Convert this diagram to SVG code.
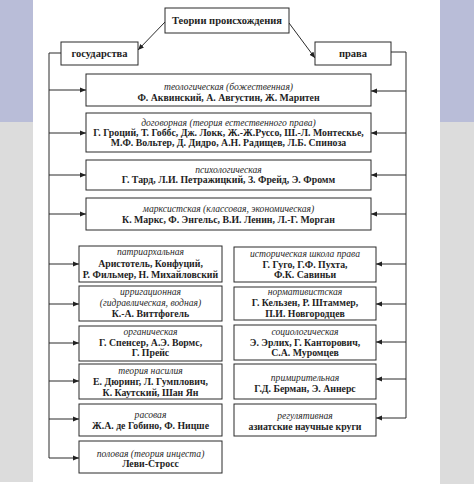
<svg xmlns="http://www.w3.org/2000/svg" width="474" height="487" viewBox="0 0 474 487">
<defs>
<marker id="ah" markerWidth="6" markerHeight="6" refX="6" refY="3" orient="auto" markerUnits="userSpaceOnUse">
<path d="M0,0.5 L6,3 L0,5.5 z" fill="#222"/>
</marker>
<style>
.bg-l{fill:#b9bdd8}
.bg-g{fill:#dcdcdc}
.box{fill:#fff;stroke:#2a2a2a;stroke-width:1}
.ln{fill:none;stroke:#2a2a2a;stroke-width:1}
.ar{fill:none;stroke:#2a2a2a;stroke-width:1;marker-end:url(#ah)}
text{font-family:"Liberation Serif","Times New Roman",serif;fill:#1e1e1e;text-anchor:middle}
.h{font-weight:bold;font-size:10.5px}
.it{font-style:italic;font-size:9.6px;fill:#2a2a2a}
.nm{font-weight:bold;font-size:9.8px}
</style>
</defs>
<rect x="0" y="0" width="474" height="487" fill="#fff"/>
<rect class="bg-l" x="0" y="0" width="33" height="122"/>
<rect class="bg-g" x="0" y="122" width="33" height="360"/>
<rect class="bg-l" x="440" y="0" width="34" height="122"/>
<rect class="bg-g" x="440" y="122" width="34" height="362"/>

<g id="connectors">
<line class="ar" x1="165" y1="22" x2="138" y2="50"/>
<line class="ar" x1="289" y1="23" x2="315" y2="58"/>
<polyline class="ln" points="61,53 49,53 49,458"/>
<polyline class="ln" points="391,52 406,52 406,418"/>
<line class="ar" x1="49" y1="90" x2="86" y2="90"/>
<line class="ar" x1="49" y1="133" x2="86" y2="133"/>
<line class="ar" x1="49" y1="175" x2="86" y2="175"/>
<line class="ar" x1="49" y1="214" x2="86" y2="214"/>
<line class="ar" x1="49" y1="264" x2="79" y2="264"/>
<line class="ar" x1="49" y1="304" x2="79" y2="304"/>
<line class="ar" x1="49" y1="343" x2="79" y2="343"/>
<line class="ar" x1="49" y1="381" x2="79" y2="381"/>
<line class="ar" x1="49" y1="419" x2="79" y2="419"/>
<line class="ar" x1="49" y1="458" x2="79" y2="458"/>
<line class="ar" x1="406" y1="91" x2="371" y2="91"/>
<line class="ar" x1="406" y1="133" x2="371" y2="133"/>
<line class="ar" x1="406" y1="175" x2="371" y2="175"/>
<line class="ar" x1="406" y1="214" x2="371" y2="214"/>
<line class="ar" x1="406" y1="264" x2="376" y2="264"/>
<line class="ar" x1="406" y1="304" x2="376" y2="304"/>
<line class="ar" x1="406" y1="342" x2="376" y2="342"/>
<line class="ar" x1="406" y1="379" x2="376" y2="379"/>
<line class="ar" x1="406" y1="418" x2="376" y2="418"/>
</g>

<g id="root"><rect class="box" x="165" y="8" width="124" height="25"/><text class="h" x="227" y="24">Теории происхождения</text></g>
<g id="state"><rect class="box" x="61" y="42" width="77" height="23"/><text class="h" x="99.5" y="57">государства</text></g>
<g id="law"><rect class="box" x="315" y="42" width="76" height="23"/><text class="h" x="353" y="57">права</text></g>

<g id="theological"><rect class="box" x="86" y="74" width="285" height="32"/>
<text class="it" x="228.5" y="90">теологическая (божественная)</text>
<text class="nm" x="228.5" y="100.5">Ф. Аквинский, А. Августин, Ж. Маритен</text></g>
<g id="contractual"><rect class="box" x="86" y="113" width="285" height="39"/>
<text class="it" x="228.5" y="126">договорная (теория естественного права)</text>
<text class="nm" x="228.5" y="136">Г. Гроций, Т. Гоббс, Дж. Локк, Ж.-Ж.Руссо, Ш.-Л. Монтескье,</text>
<text class="nm" x="228.5" y="146">М.Ф. Вольтер, Д. Дидро, А.Н. Радищев, Л.Б. Спиноза</text></g>
<g id="psychological"><rect class="box" x="86" y="160" width="285" height="30"/>
<text class="it" x="228.5" y="173">психологическая</text>
<text class="nm" x="228.5" y="183">Г. Тард, Л.И. Петражицкий, З. Фрейд, Э. Фромм</text></g>
<g id="marxist"><rect class="box" x="86" y="198" width="285" height="32"/>
<text class="it" x="228.5" y="212">марксистская (классовая, экономическая)</text>
<text class="nm" x="228.5" y="223">К. Маркс, Ф. Энгельс, В.И. Ленин, Л.-Г. Морган</text></g>

<g id="patriarchal"><rect class="box" x="79" y="246" width="143" height="36"/>
<text class="it" x="150.5" y="255">патриархальная</text>
<text class="nm" x="150.5" y="267">Аристотель, Конфуций,</text>
<text class="nm" x="150.5" y="278">Р. Фильмер, Н. Михайловский</text></g>
<g id="irrigation"><rect class="box" x="79" y="286" width="143" height="35"/>
<text class="it" x="150.5" y="295">ирригационная</text>
<text class="it" x="150.5" y="306">(гидравлическая, водная)</text>
<text class="nm" x="150.5" y="317">К.-А. Виттфогель</text></g>
<g id="organic"><rect class="box" x="79" y="326" width="143" height="35"/>
<text class="it" x="150.5" y="335">органическая</text>
<text class="nm" x="150.5" y="345.5">Г. Спенсер, А.Э. Вормс,</text>
<text class="nm" x="150.5" y="356">Г. Прейс</text></g>
<g id="violence"><rect class="box" x="79" y="364" width="143" height="35"/>
<text class="it" x="150.5" y="374">теория насилия</text>
<text class="nm" x="150.5" y="385">Е. Дюринг, Л. Гумплович,</text>
<text class="nm" x="150.5" y="395.5">К. Каутский, Шан Ян</text></g>
<g id="racial"><rect class="box" x="79" y="404" width="143" height="32"/>
<text class="it" x="150.5" y="418">расовая</text>
<text class="nm" x="150.5" y="428.5">Ж.А. де Гобино, Ф. Ницше</text></g>
<g id="sexual"><rect class="box" x="79" y="441" width="143" height="32"/>
<text class="it" x="150.5" y="457">половая (теория инцеста)</text>
<text class="nm" x="150.5" y="467">Леви-Стросс</text></g>

<g id="historical"><rect class="box" x="234" y="247" width="142" height="35"/>
<text class="it" x="305" y="257">историческая школа права</text>
<text class="nm" x="305" y="267.5">Г. Гуго, Г.Ф. Пухта,</text>
<text class="nm" x="305" y="278">Ф.К. Савиньи</text></g>
<g id="normativist"><rect class="box" x="234" y="287" width="142" height="33"/>
<text class="it" x="305" y="295">нормативистская</text>
<text class="nm" x="305" y="306">Г. Кельзен, Р. Штаммер,</text>
<text class="nm" x="305" y="317">П.И. Новгородцев</text></g>
<g id="sociological"><rect class="box" x="234" y="325" width="142" height="35"/>
<text class="it" x="305" y="335">социологическая</text>
<text class="nm" x="305" y="345.5">Э. Эрлих, Г. Канторович,</text>
<text class="nm" x="305" y="356">С.А. Муромцев</text></g>
<g id="conciliatory"><rect class="box" x="234" y="364" width="142" height="35"/>
<text class="it" x="305" y="381">примирительная</text>
<text class="nm" x="305" y="391.5">Г.Д. Берман, Э. Аннерс</text></g>
<g id="regulative"><rect class="box" x="234" y="404" width="142" height="32"/>
<text class="it" x="305" y="419">регулятивная</text>
<text class="nm" x="305" y="429.5">азиатские научные круги</text></g>
</svg>
